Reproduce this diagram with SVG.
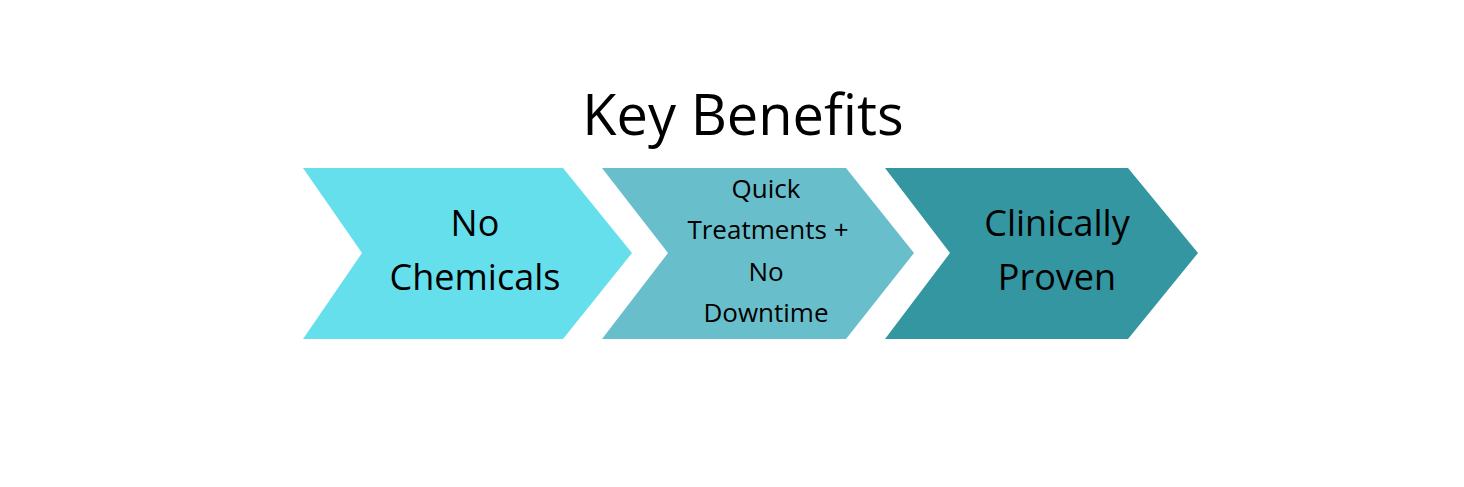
<svg xmlns="http://www.w3.org/2000/svg" width="1464" height="487" viewBox="0 0 1464 487">
<style>
text{font-family:"Open Sans","Liberation Sans",sans-serif;fill:#000;text-anchor:middle}
.big{font-size:36px}
.sm{font-size:26px}
</style>
<rect width="1464" height="487" fill="#fff"/>
<text x="743" y="135" font-size="56">Key Benefits</text>
<g id="node1"><polygon points="303,168 563,168 632,253 563,339 303,339 362,253" fill="#66DFED"/>
<text class="big" x="475" y="236">No</text><text class="big" x="475" y="290">Chemicals</text></g>
<g id="node2"><polygon points="602,168 846,168 914,253 846,339 602,339 668,253" fill="#68BFCB"/>
<text class="sm" x="766" y="198">Quick</text><text class="sm" x="768" y="239">Treatments +</text><text class="sm" x="766" y="281">No</text><text class="sm" x="766" y="322">Downtime</text></g>
<g id="node3"><polygon points="885,168 1128,168 1198,253 1128,339 885,339 950,253" fill="#3396A1"/>
<text class="big" x="1057" y="236">Clinically</text><text class="big" x="1057" y="290">Proven</text></g>
<g id="connectors"/>
</svg>
